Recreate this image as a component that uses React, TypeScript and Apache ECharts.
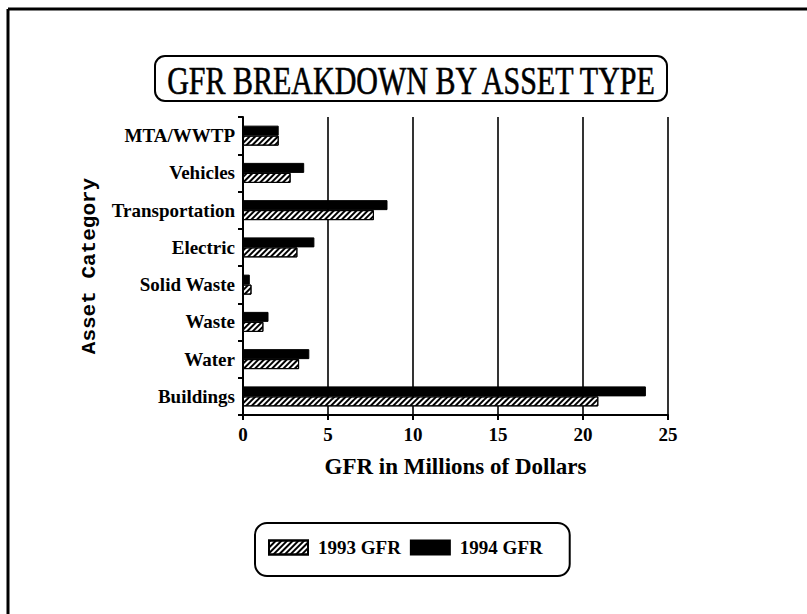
import React, { useEffect, useRef } from "react";
import * as echarts from "echarts";

const categories = [
  "Buildings",
  "Water",
  "Waste",
  "Solid Waste",
  "Electric",
  "Transportation",
  "Vehicles",
  "MTA/WWTP",
];
const gfr1993 = [20.9, 3.3, 1.2, 0.5, 3.2, 7.7, 2.8, 2.1];
const gfr1994 = [23.7, 3.9, 1.5, 0.4, 4.2, 8.5, 3.6, 2.1];
const seriesNames = ["1993 GFR", "1994 GFR"];
const titleText = "GFR BREAKDOWN BY ASSET TYPE";
const xAxisName = "GFR in Millions of Dollars";
const yAxisName = "Asset Category";

const serif = '"Liberation Serif", "Times New Roman", serif';

export default function App() {
  const ref = useRef<HTMLDivElement>(null);
  useEffect(() => {
    if (!ref.current) return;
    const chart = echarts.init(ref.current, null, { renderer: "svg" });
    const hatch = {
      symbol: "rect",
      symbolSize: 1,
      dashArrayX: [1, 0],
      dashArrayY: [1.6, 2],
      rotation: -Math.PI / 4,
      color: "#000",
      backgroundColor: "#fff",
    };
    chart.setOption({
      animation: false,
      backgroundColor: "#fff",
      textStyle: { fontFamily: serif, color: "#000" },
      graphic: [
        {
          type: "line",
          shape: { x1: 8, y1: 9, x2: 807, y2: 9 },
          style: { stroke: "#000", lineWidth: 3 },
        },
        {
          type: "line",
          shape: { x1: 8, y1: 9, x2: 8, y2: 614 },
          style: { stroke: "#000", lineWidth: 3 },
        },
        {
          type: "rect",
          shape: { x: 155, y: 56, width: 512, height: 45, r: 10 },
          style: { fill: "none", stroke: "#000", lineWidth: 2 },
        },
        {
          type: "text",
          x: 411,
          y: 80,
          scaleX: 0.75,
          style: {
            text: titleText,
            font: "40px " + serif,
            fill: "#000",
            stroke: "#000",
            lineWidth: 0.6,
            textAlign: "center",
            textVerticalAlign: "middle",
          },
        },
      ],
      legend: {
        left: 255,
        top: 523,
        orient: "horizontal",
        data: seriesNames,
        icon: "rect",
        itemWidth: 39,
        itemHeight: 14,
        itemGap: 9,
        padding: [15, 27, 19, 13],
        borderColor: "#000",
        borderWidth: 2,
        borderRadius: 12,
        textStyle: {
          fontFamily: serif,
          fontWeight: "bold",
          fontSize: 19,
          color: "#000",
          padding: [0, 0, 0, 5],
        },
      },
      grid: { left: 243, right: 139, top: 117, bottom: 199, containLabel: false },
      xAxis: {
        type: "value",
        min: 0,
        max: 25,
        interval: 5,
        name: xAxisName,
        nameLocation: "middle",
        nameGap: 40,
        nameTextStyle: { fontFamily: serif, fontWeight: "bold", fontSize: 23, color: "#000" },
        axisLine: { show: true, lineStyle: { color: "#000", width: 2 } },
        axisTick: { show: true, length: 5, lineStyle: { color: "#000", width: 2 } },
        axisLabel: { margin: 10, fontFamily: serif, fontWeight: "bold", fontSize: 19, color: "#000" },
        splitLine: { show: true, lineStyle: { color: "#000", width: 1.6 } },
      },
      yAxis: {
        type: "category",
        data: categories,
        name: yAxisName,
        nameLocation: "middle",
        nameRotate: 90,
        nameGap: 143,
        nameTextStyle: {
          fontFamily: '"Liberation Mono", monospace',
          fontWeight: "bold",
          fontSize: 21,
          color: "#000",
        },
        axisLine: { show: true, lineStyle: { color: "#000", width: 2 } },
        axisTick: { show: true, length: 5, lineStyle: { color: "#000", width: 2 } },
        axisLabel: { margin: 8, fontFamily: serif, fontWeight: "bold", fontSize: 19, color: "#000" },
        splitLine: { show: false },
      },
      series: [
        {
          name: seriesNames[1],
          type: "bar",
          data: gfr1994,
          barWidth: 10,
          barGap: "0%",
          itemStyle: { color: "#000", borderColor: "#000", borderWidth: 1 },
        },
        {
          name: seriesNames[0],
          type: "bar",
          data: gfr1993,
          barWidth: 10,
          barGap: "0%",
          itemStyle: { color: "#fff", borderColor: "#000", borderWidth: 1, decal: hatch },
        },
      ],
    });
    return () => chart.dispose();
  }, []);
  return (
    <div
      ref={ref}
      style={{ position: "absolute", left: 0, top: 0, width: 807, height: 614 }}
    />
  );
}
